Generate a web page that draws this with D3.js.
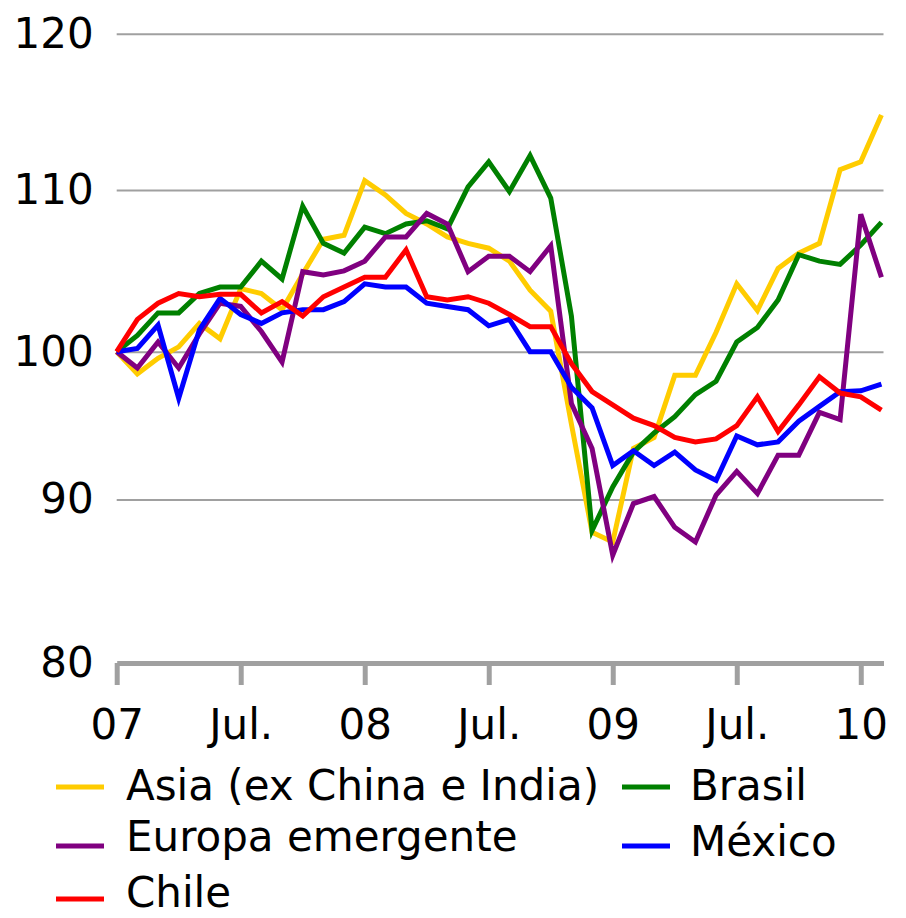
<!DOCTYPE html>
<html>
<head>
<meta charset="utf-8">
<script src="https://cdn.jsdelivr.net/npm/d3@7"></script>
<style>
  body { margin: 0; background: #fff; }
  svg { display: block; }
</style>
</head>
<body>
<div id="chart"></div>
<script>
// monthly index, Jan 2007 = 100 ... Feb 2010
var months = d3.range(38);
var tickMonths = [0, 6, 12, 18, 24, 30, 36];
var tickLabels = ["07", "Jul.", "08", "Jul.", "09", "Jul.", "10"];
var yTicks = [80, 90, 100, 110, 120];

var seriesNames = ["Asia (ex China e India)", "Brasil", "Europa emergente", "México", "Chile"];
var seriesColors = ["#ffcc00", "#008000", "#800080", "#0000ff", "#ff0000"];

var asia = [100, 98.5, 99.55, 100.3, 101.75, 100.8, 103.9, 103.6, 102.6, 104.8,
  106.95, 107.2, 110.6, 109.7, 108.55, 107.9, 107.1, 106.7, 106.4, 105.6,
  103.8, 102.5, 95.1, 88.0, 87.4, 93.45, 94.2, 98.4, 98.4, 101.2,
  104.2, 102.55, 105.15, 106.1, 106.7, 111.3, 111.8, 114.8];
var brasil = [100, 101.0, 102.4, 102.4, 103.6, 104.0, 104.0, 105.6, 104.5, 109.0,
  106.7, 106.1, 107.7, 107.3, 107.9, 108.1, 107.6, 110.2, 111.8, 109.9,
  112.2, 109.5, 102.2, 88.1, 90.85, 93.2, 94.5, 95.6, 97.1, 98.0,
  100.6, 101.5, 103.2, 106.0, 105.6, 105.4, 106.6, 108.0];
var europa = [100, 98.9, 100.6, 98.9, 101.1, 103.0, 102.8, 101.25, 99.3, 104.95,
  104.75, 105.0, 105.6, 107.1, 107.1, 108.55, 107.9, 104.95, 105.9, 105.9,
  104.95, 106.55, 96.5, 93.45, 86.6, 89.75, 90.2, 88.3, 87.4, 90.3,
  91.9, 90.4, 93.0, 93.0, 95.9, 95.4, 108.5, 104.6];
var mexico = [100, 100.2, 101.65, 96.85, 101.35, 103.3, 102.3, 101.75, 102.4, 102.6,
  102.6, 103.1, 104.2, 104.0, 104.0, 103.0, 102.8, 102.6, 101.6, 102.0,
  100.0, 100.0, 97.6, 96.2, 92.3, 93.3, 92.3, 93.2, 92.0, 91.3,
  94.3, 93.7, 93.9, 95.3, 96.3, 97.3, 97.35, 97.8];
var chile = [100, 102.0, 103.0, 103.6, 103.4, 103.55, 103.55, 102.4, 103.1, 102.2,
  103.4, 104.0, 104.6, 104.6, 106.3, 103.4, 103.2, 103.4, 103.0, 102.3,
  101.55, 101.55, 99.2, 97.3, 96.4, 95.5, 95.0, 94.2, 93.9, 94.1,
  95.0, 96.95, 94.6, 96.4, 98.3, 97.2, 96.95, 96.05];

var seriesValues = [asia, brasil, europa, mexico, chile];

var width = 906, height = 918;
var fontFamily = "'DejaVu Sans', Verdana, sans-serif";
var fontSize = "42px";

var svg = d3.select("#chart").append("svg")
  .attr("width", width)
  .attr("height", height);

var x = d3.scaleLinear()
  .domain([0, 37.1])
  .range([116.7, 883.5]);

// gridlines in the original are not evenly spaced, so the scale is piecewise
var y = d3.scaleLinear()
  .domain(yTicks)
  .range([663, 499.5, 351.7, 190, 33.7]);

// y gridlines + labels
var yAxis = svg.append("g")
  .attr("transform", "translate(" + x.range()[0] + ",0)")
  .call(d3.axisLeft(y)
    .tickValues(yTicks)
    .tickSize(-(x.range()[1] - x.range()[0]))
    .tickPadding(23)
    .tickFormat(d3.format("d")));

yAxis.select(".domain").remove();
yAxis.selectAll(".tick line")
  .attr("stroke", "#a0a0a0")
  .attr("stroke-width", 2)
  .attr("display", function(d) { return d === 80 ? "none" : null; });
yAxis.selectAll(".tick text")
  .attr("fill", "#000")
  .style("font-family", fontFamily)
  .style("font-size", fontSize);

// lines
var line = d3.line()
  .x(function(d, i) { return x(months[i]); })
  .y(function(d) { return y(d); });

svg.selectAll(".series")
  .data(seriesValues)
  .enter()
  .append("path")
  .attr("class", "series")
  .attr("d", function(d) { return line(d); })
  .attr("fill", "none")
  .attr("stroke", function(d, i) { return seriesColors[i]; })
  .attr("stroke-width", 5)
  .attr("stroke-linejoin", "miter");

// x axis
var xAxis = svg.append("g")
  .attr("transform", "translate(0," + y(80) + ")")
  .call(d3.axisBottom(x)
    .tickValues(tickMonths)
    .tickSize(22)
    .tickSizeOuter(0)
    .tickPadding(24)
    .tickFormat(function(d, i) { return tickLabels[i]; }));

xAxis.select(".domain")
  .attr("stroke", "#a0a0a0")
  .attr("stroke-width", 5);
xAxis.selectAll(".tick line")
  .attr("stroke", "#a0a0a0")
  .attr("stroke-width", 5);
xAxis.selectAll(".tick text")
  .attr("fill", "#000")
  .style("font-family", fontFamily)
  .style("font-size", fontSize);

// legend, two columns filled row by row
var legendCols = [{sx: 56, tx: 126}, {sx: 622, tx: 690}];
var legendRows = [{base: 800, sw: 787}, {base: 851, sw: 846}, {base: 907, sw: 899}];

var legend = svg.selectAll(".legend")
  .data(seriesNames)
  .enter()
  .append("g")
  .attr("class", "legend");

legend.append("line")
  .attr("x1", function(d, i) { return legendCols[i % 2].sx; })
  .attr("x2", function(d, i) { return legendCols[i % 2].sx + 48; })
  .attr("y1", function(d, i) { return legendRows[Math.floor(i / 2)].sw; })
  .attr("y2", function(d, i) { return legendRows[Math.floor(i / 2)].sw; })
  .attr("stroke", function(d, i) { return seriesColors[i]; })
  .attr("stroke-width", 5);

legend.append("text")
  .attr("x", function(d, i) { return legendCols[i % 2].tx; })
  .attr("y", function(d, i) { return legendRows[Math.floor(i / 2)].base + (i === 3 ? 5 : 0); })
  .text(function(d) { return d; })
  .style("font-family", fontFamily)
  .style("font-size", fontSize)
  .attr("fill", "#000");
</script>
</body>
</html>
